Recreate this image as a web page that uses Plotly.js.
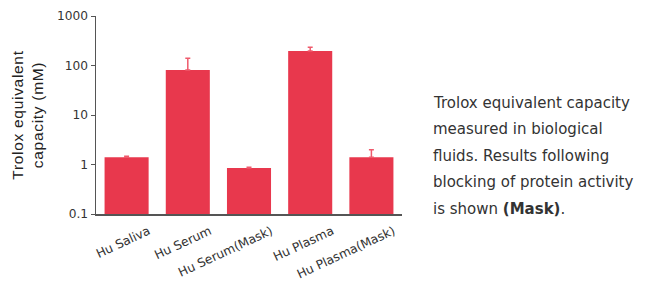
<!DOCTYPE html>
<html><head><meta charset="utf-8">
<script src="https://cdn.plot.ly/plotly-3.0.1.min.js"></script>
<style>
html,body{margin:0;padding:0;background:#fff;}
#chart text.ytitle{letter-spacing:0.7px;}
</style>
</head><body><div id="chart" style="width:654px;height:289px;"></div>
<script>
const categories = ["Hu Saliva", "Hu Serum", "Hu Serum(Mask)", "Hu Plasma", "Hu Plasma(Mask)"];
const values = [1.4, 81, 0.85, 196, 1.4];
const errors = [0.06, 59, 0.03, 37, 0.58];
const yTickVals = [0.1, 1, 10, 100, 1000];
const yTickText = ["0.1", "1", "10", "100", "1000"];
const noteLines = ["Trolox equivalent capacity", "measured in biological", "fluids. Results following", "blocking of protein activity", "is shown <b>(Mask)</b>."];

const FONT = "'DejaVu Sans', sans-serif";
const trace = {
  type: "bar", x: categories, y: values,
  marker: {color: "#E8384D"},
  error_y: {type: "data", array: errors, symmetric: false, arrayminus: errors.map(()=>0), color: "#EF5A6C", thickness: 1.5, width: 2.5},
  hoverinfo: "none"
};
const L = 96, R = 402, T = 16, B = 214;
const annotations = noteLines.map((t, i) => ({
  xref: "paper", yref: "paper", x: (431 - L) / (R - L), y: (B - (102.5 + i * 26.5)) / (B - T),
  xanchor: "left", yanchor: "middle", text: t, showarrow: false,
  font: {family: FONT, size: 15, color: "#333"}
}));
const layout = {
  width: 654, height: 289,
  margin: {l: L, r: 654 - R, t: T, b: 289 - B, pad: 0},
  paper_bgcolor: "#fff", plot_bgcolor: "#fff",
  bargap: 0.28, showlegend: false,
  font: {family: FONT, color: "#333"},
  xaxis: {
    tickangle: -25, tickfont: {size: 12.3, color: "#333"}, showline: true, linecolor: "#555", linewidth: 1.5,
    ticks: "", showgrid: false, zeroline: false, ticklabelshift: 22, ticklabelstandoff: 4
  },
  yaxis: {
    type: "log", range: [-1, 3], tickvals: yTickVals, ticktext: yTickText,
    tickfont: {size: 12.2, color: "#333"}, showline: true, linecolor: "#555", linewidth: 1.5,
    ticks: "outside", ticklen: 4, tickcolor: "#555", showgrid: false, zeroline: false,
    title: {text: "Trolox equivalent<br>capacity (mM)", font: {family: "'Liberation Sans', Arial, sans-serif", size: 15.5, color: "#222"}, standoff: 9}
  },
  annotations: annotations
};
Plotly.newPlot("chart", [trace], layout, {staticPlot: true, displayModeBar: false});
</script></body></html>
